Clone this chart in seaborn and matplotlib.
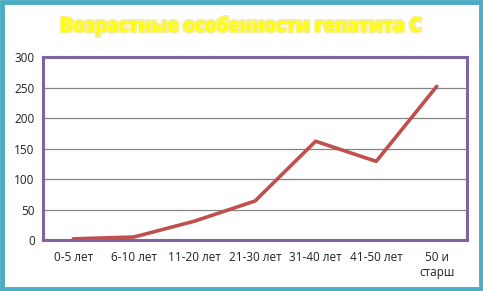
import matplotlib
matplotlib.use("Agg")
import matplotlib.pyplot as plt
import matplotlib.patheffects as pe
from matplotlib.patches import Rectangle
import seaborn as sns
import pandas as pd
import numpy as np

categories = ["0-5 лет", "6-10 лет", "11-20 лет", "21-30 лет", "31-40 лет", "41-50 лет", "50 и\nстарш"]
values = [2, 5, 31, 64, 162, 129, 252]
yticks = [0, 50, 100, 150, 200, 250, 300]

df = pd.DataFrame({"pos": np.arange(len(categories)), "age": categories, "cases": values})

sns.set_style("white")
plt.rcParams["font.family"] = ["Open Sans", "DejaVu Sans"]

fig = plt.figure(figsize=(4.83, 2.91), dpi=100)
ax = fig.add_axes([0.089, 0.175, 0.878, 0.629])

sns.lineplot(data=df, x="pos", y="cases", ax=ax, color="#C0504D", linewidth=2.6)

ax.set_xlim(-0.5, len(categories) - 0.5)
ax.set_ylim(0, 300)
ax.set_yticks(yticks)
ax.set_yticklabels([str(t) for t in yticks], fontsize=8.5, color="#222222")
for t in yticks[1:-1]:
    ax.axhline(t, color="#858585", linewidth=0.9, zorder=0)

ax.set_xticks(np.arange(len(categories)))
ax.set_xticklabels(categories, fontsize=8.5, color="#222222")
ax.set_xticks(np.arange(len(categories) + 1) - 0.5, minor=True)
ax.tick_params(axis="x", which="major", length=0, pad=8)
ax.tick_params(axis="x", which="minor", length=4, color="#8c8c8c", direction="out")
ax.tick_params(axis="y", which="major", length=4, color="#8c8c8c", direction="out", pad=2)
ax.set_xlabel("")
ax.set_ylabel("")

for side in ["top", "right", "left", "bottom"]:
    ax.spines[side].set_visible(True)
    ax.spines[side].set_color("#8064A2")
    ax.spines[side].set_linewidth(2.2)

fig.text(0.5, 0.91, "Возрастные особенности гепатита С", ha="center", va="center",
         fontsize=13.6, fontweight="bold", color="#FFFF00",
         family=["Open Sans", "DejaVu Sans"],
         path_effects=[pe.withStroke(linewidth=3, foreground="#F5EE9A")])

fig.patches.append(Rectangle((0.004, 0.006), 0.992, 0.988, transform=fig.transFigure,
                             fill=False, edgecolor="#4BACC6", linewidth=3.5))

fig.savefig("out.png", dpi=100)
